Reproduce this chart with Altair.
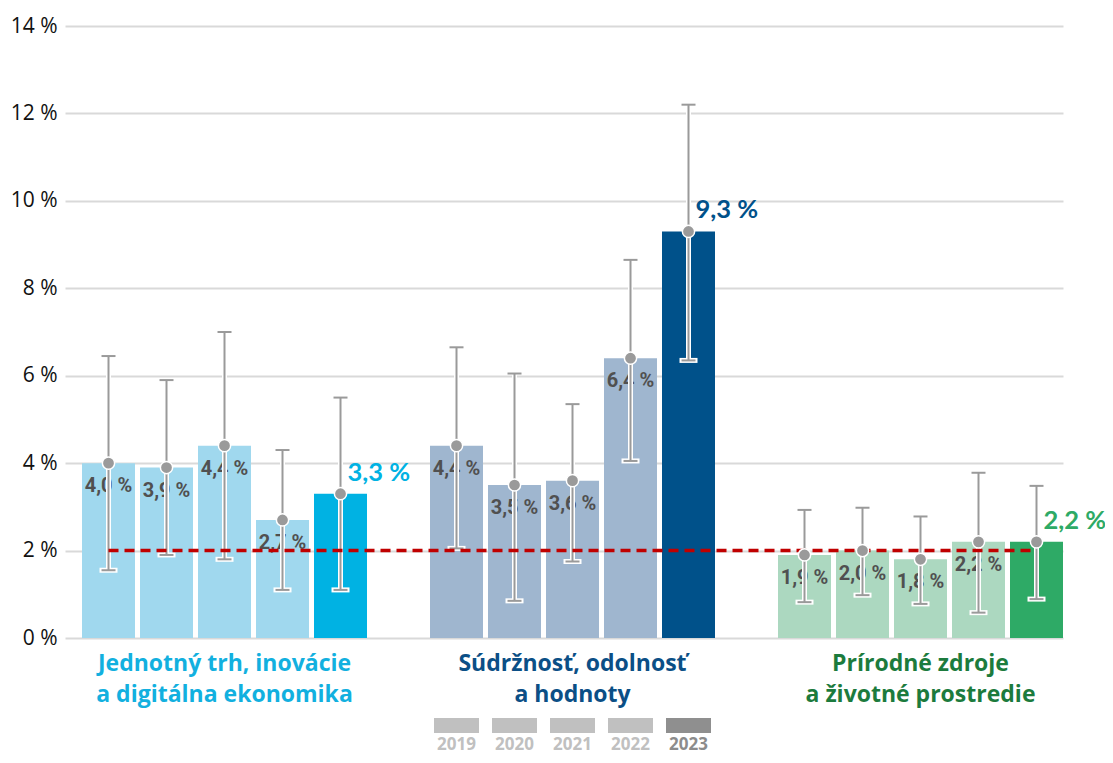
import altair as alt
import pandas as pd

years = [2019, 2020, 2021, 2022, 2023]
group_keys = ["g1", "g2", "g3"]
group_labels = [
    "Jednotný trh, inovácie\na digitálna ekonomika",
    "Súdržnosť, odolnosť\na hodnoty",
    "Prírodné zdroje\na životné prostredie",
]

values_g1 = [4.0, 3.9, 4.4, 2.7, 3.3]
low_g1 = [1.55, 1.9, 1.8, 1.1, 1.1]
high_g1 = [6.45, 5.9, 7.0, 4.3, 5.5]

values_g2 = [4.4, 3.5, 3.6, 6.4, 9.3]
low_g2 = [2.05, 0.85, 1.75, 4.05, 6.35]
high_g2 = [6.65, 6.05, 5.35, 8.65, 12.2]

values_g3 = [1.9, 2.0, 1.8, 2.2, 2.2]
low_g3 = [0.82, 0.98, 0.78, 0.58, 0.89]
high_g3 = [2.93, 2.98, 2.78, 3.78, 3.48]

threshold = 2.0
y_ticks = [0, 2, 4, 6, 8, 10, 12, 14]

light_colors = ["#a0d8ee", "#9fb6cf", "#acd8c0"]
dark_colors = ["#00b2e3", "#00518a", "#2eaa66"]
title_colors = ["#12b0df", "#0b4f86", "#1c7b3d"]

legend_swatch = ["#c0c0c0", "#c0c0c0", "#c0c0c0", "#c0c0c0", "#8f8f8f"]
legend_text = ["#c0c0c0", "#c0c0c0", "#c0c0c0", "#c0c0c0", "#8c8c8c"]

all_values = [values_g1, values_g2, values_g3]
all_low = [low_g1, low_g2, low_g3]
all_high = [high_g1, high_g2, high_g3]

# slot domain: 5 bars, gap, 5 bars, gap, 5 bars
domain = []
for gi, gk in enumerate(group_keys):
    domain += [f"{gk}-{y}" for y in years]
    if gi < 2:
        domain.append(f"gap{gi + 1}")

rows = []
for gi, gk in enumerate(group_keys):
    for yi, y in enumerate(years):
        v = all_values[gi][yi]
        rows.append({
            "slot": f"{gk}-{y}",
            "year": y,
            "value": v,
            "low": all_low[gi][yi],
            "high": all_high[gi][yi],
            "color": dark_colors[gi] if y == 2023 else light_colors[gi],
            "tcolor": dark_colors[gi],
            "label": f"{v:.1f}".replace(".", ",") + " %",
        })
df = pd.DataFrame(rows)
df_old = df[df["year"] != 2023]
df_new = df[df["year"] == 2023]

df_groups = pd.DataFrame({
    "slot": [f"{gk}-2021" for gk in group_keys],
    "text": group_labels,
    "color": title_colors,
})

df_legend = pd.DataFrame({
    "slot": [f"g2-{y}" for y in years],
    "text": [str(y) for y in years],
    "swatch": legend_swatch,
    "tcolor": legend_text,
})

df_thr = pd.DataFrame({"a": [domain[0]], "b": [domain[-1]], "t": [threshold]})

xscale = alt.Scale(domain=domain, paddingInner=0.0862, paddingOuter=0.1466, align=1)
x = alt.X("slot:N", scale=xscale, axis=None)
yscale = alt.Scale(domain=[0, 14], nice=False)

base = alt.Chart(df)

bars = base.mark_bar().encode(
    x=x,
    y=alt.Y(
        "value:Q",
        scale=yscale,
        title=None,
        axis=alt.Axis(
            values=y_ticks,
            labelExpr="datum.value + ' %'",
            domain=False,
            ticks=False,
            grid=True,
            gridColor="#d9d9d9",
            gridWidth=2,
            labelFontSize=21,
            labelFont="Open Sans",
            labelColor="#111111",
            labelPadding=8,
        ),
    ),
    color=alt.Color("color:N", scale=None),
)

labels = alt.Chart(df_old).mark_text(
    dy=23, fontSize=20, fontWeight="bold", font="Roboto", color="#505050", baseline="middle"
).encode(x=x, y=alt.Y("value:Q", scale=yscale), text="label:N")

halo_rule = base.mark_rule(color="white", strokeWidth=5).encode(
    x=x, y=alt.Y("low:Q", scale=yscale), y2="high:Q"
)
halo_low = base.mark_tick(color="white", size=18, thickness=5, opacity=1).encode(
    x=x, y=alt.Y("low:Q", scale=yscale)
)
err_rule = base.mark_rule(color="#9a9a9a", strokeWidth=2).encode(
    x=x, y=alt.Y("low:Q", scale=yscale), y2="high:Q"
)
err_low = base.mark_tick(color="#9a9a9a", size=14, thickness=2, opacity=1).encode(
    x=x, y=alt.Y("low:Q", scale=yscale)
)
err_high = base.mark_tick(color="#9a9a9a", size=14, thickness=2, opacity=1).encode(
    x=x, y=alt.Y("high:Q", scale=yscale)
)

thr = alt.Chart(df_thr).mark_rule(
    color="#c00000", strokeWidth=3.5, strokeDash=[10, 6]
).encode(
    x=alt.X("a:N", scale=xscale, axis=None),
    x2="b:N",
    y=alt.Y("t:Q", scale=yscale),
)

points = base.mark_circle(
    size=150, fill="#9a9a9a", stroke="white", strokeWidth=1.5, opacity=1
).encode(x=x, y=alt.Y("value:Q", scale=yscale))

big_labels = alt.Chart(df_new).mark_text(
    align="left", dx=7, dy=-21, fontSize=25.5, fontWeight="bold", font="Lato", baseline="middle"
).encode(
    x=x, y=alt.Y("value:Q", scale=yscale), text="label:N",
    color=alt.Color("tcolor:N", scale=None),
)

group_text = alt.Chart(df_groups).mark_text(
    fontSize=23, fontWeight="bold", font="Open Sans", lineBreak="\n",
    lineHeight=31, baseline="alphabetic", align="center",
).encode(
    x=x, y=alt.value(645), text="text:N",
    color=alt.Color("color:N", scale=None),
)

legend_rect = alt.Chart(df_legend).mark_bar(size=45).encode(
    x=x, y=alt.value(692), y2=alt.value(707),
    color=alt.Color("swatch:N", scale=None),
)
legend_lbl = alt.Chart(df_legend).mark_text(
    fontSize=17, fontWeight="bold", font="Open Sans", baseline="middle"
).encode(
    x=x, y=alt.value(719), text="text:N",
    color=alt.Color("tcolor:N", scale=None),
)

chart = alt.layer(
    bars, labels, halo_rule, halo_low, err_rule, err_low, err_high, thr, points,
    big_labels, group_text, legend_rect, legend_lbl,
).properties(
    width=998,
    height=612,
    background="white",
    autosize=alt.AutoSizeParams(type="none"),
    padding={"left": 57, "top": 18, "right": 42, "bottom": 117},
).configure_view(strokeWidth=0)

chart.save("out.html", embed_options={"renderer": "svg", "actions": False})
